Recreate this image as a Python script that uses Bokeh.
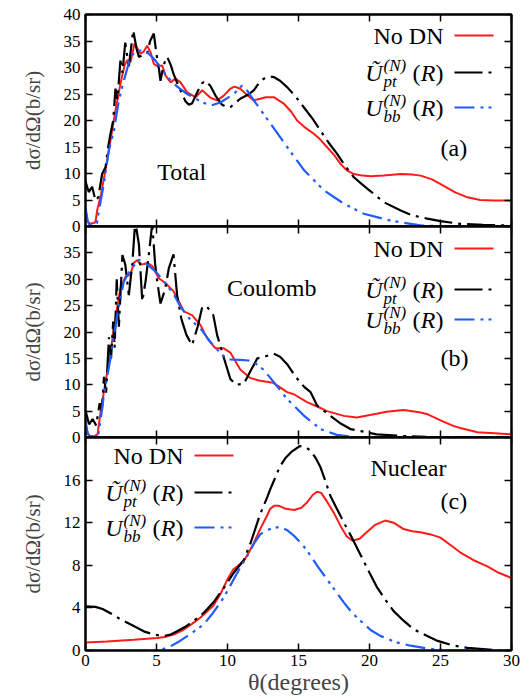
from bokeh.plotting import figure
from bokeh.models import Range1d, LinearAxis, FixedTicker, Label
from bokeh.layouts import column
from bokeh.embed import file_html
from bokeh.resources import INLINE

FONT = "Liberation Serif"
RED = "#ff1a1a"
BLACK = "#000000"
BLUE = "#1f5cff"

theta_ticks = [0, 5, 10, 15, 20, 25, 30]
a_ticks = [0, 5, 10, 15, 20, 25, 30, 35, 40]
b_ticks = [0, 5, 10, 15, 20, 25, 30, 35]
c_ticks = [0, 4, 8, 12, 16]
ab_right_ticks = [0, 5, 10, 15, 20, 25, 30, 35, 40]
c_right_ticks = [0, 4, 8, 12, 16, 20]

legend_labels = ["No DN", "Ũ", "U"]
panel_names = ["Total", "Coulomb", "Nuclear"]
panel_tags = ["(a)", "(b)", "(c)"]
y_title = "dσ/dΩ(b/sr)"
x_title = "θ(degrees)"

# ---------------- Panel (a): Total ----------------
a_red_x = [0, 0.15, 0.3, 0.5, 0.7, 0.82, 1.1, 1.41, 1.76, 2.11, 2.46, 2.75, 2.93, 3.17, 3.45, 3.68, 3.87, 4.1, 4.34, 4.58, 4.81, 5.1, 5.4, 5.63, 5.99, 6.34, 6.69, 7.16, 7.75, 8.22, 8.8, 9.27, 9.74, 10.2, 10.5, 10.9, 11.3, 11.85, 12.3, 12.7, 13.26, 13.96, 14.5, 14.9, 15.5, 16.08, 16.5, 17.0, 17.5, 17.96, 18.4, 18.9, 19.5, 20.1, 21.0, 22.2, 23.0, 23.6, 24.4, 25.2, 26.0, 26.9, 27.8, 28.75, 30]
a_red_y = [3.2, 1.0, 0.5, 0.6, 0.8, 3.0, 6.2, 10.7, 16.2, 21.9, 26.9, 30.4, 31.4, 31.0, 34.5, 33.5, 32.6, 33.0, 34.1, 32.9, 30.7, 30.2, 30.4, 28.5, 27.2, 27.9, 27.2, 25.3, 24.4, 25.7, 24.3, 23.8, 24.7, 26.0, 26.4, 26.0, 25.0, 23.8, 24.1, 24.4, 24.4, 23.2, 21.6, 20.0, 18.6, 17.5, 16.5, 15.0, 13.5, 11.8, 10.6, 9.9, 9.6, 9.5, 9.6, 9.9, 9.8, 9.6, 8.9, 7.7, 6.5, 5.5, 5.0, 4.9, 4.9]

a_blk_x = [0, 0.23, 0.47, 0.7, 0.9, 1.17, 1.41, 1.6, 1.76, 1.95, 2.11, 2.25, 2.46, 2.6, 2.8, 3.05, 3.36, 3.6, 3.76, 4.0, 4.34, 4.55, 4.81, 5.0, 5.16, 5.28, 5.5, 5.75, 6.0, 6.2, 6.5, 6.8, 7.05, 7.28, 7.5, 7.9, 8.2, 8.45, 8.8, 9.2, 9.6, 9.98, 10.2, 10.5, 10.9, 11.4, 11.85, 12.2, 12.56, 13.0, 13.26, 13.7, 14.2, 14.8, 15.37, 16.0, 16.55, 17.1, 17.72, 18.3, 18.9, 19.5, 20.1, 21.0, 22.2, 23.0, 24.06, 25.0, 26.4, 28.0, 30]
a_blk_y = [8.5, 6.5, 7.5, 4.9, 5.5, 9.9, 11.2, 15.0, 17.5, 20.0, 26.0, 24.0, 31.3, 29.0, 34.7, 30.2, 37.0, 33.5, 32.0, 32.3, 32.6, 35.0, 36.4, 32.5, 30.0, 27.5, 30.5, 32.0, 30.5, 28.8, 26.8, 25.0, 23.6, 23.0, 23.2, 25.5, 27.0, 27.5, 26.5, 24.5, 23.0, 22.5, 22.5, 23.2, 24.1, 24.8, 25.7, 27.0, 27.9, 28.3, 28.2, 27.5, 26.3, 24.5, 22.5, 20.3, 18.1, 15.9, 13.7, 11.4, 9.3, 7.9, 6.6, 4.6, 3.0, 2.1, 1.5, 1.0, 0.5, 0.3, 0.2]

a_blu_x = [0, 0.15, 0.3, 0.6, 0.8, 0.94, 1.29, 1.64, 2.0, 2.35, 2.7, 3.17, 3.52, 3.99, 4.46, 4.93, 5.52, 6.1, 6.6, 7.16, 8.1, 8.8, 9.5, 10.44, 11.03, 11.4, 11.85, 13.03, 14.2, 15.4, 16.8, 18.2, 19.6, 21.5, 23.6, 25.0, 30]
a_blu_y = [3.6, 1.0, 0.3, 0.2, 0.6, 3.0, 8.0, 14.3, 18.1, 23.8, 27.5, 32.0, 32.9, 33.3, 32.6, 31.3, 29.1, 27.2, 26.1, 25.0, 23.6, 22.8, 23.4, 25.0, 26.6, 25.6, 23.8, 19.4, 15.0, 10.6, 6.8, 4.3, 2.4, 1.1, 0.2, 0.05, 0.0]

# ---------------- Panel (b): Coulomb ----------------
b_red_x = [0, 0.15, 0.3, 0.6, 0.85, 1.06, 1.41, 1.76, 2.11, 2.46, 2.82, 3.17, 3.4, 3.64, 3.87, 4.1, 4.34, 4.7, 5.16, 5.63, 6.2, 6.6, 6.92, 7.5, 8.1, 8.57, 9.15, 9.74, 10.2, 10.9, 11.6, 12.2, 13.2, 14.2, 14.67, 15.6, 16.55, 17.0, 18.2, 19.1, 20.5, 21.2, 22.4, 23.5, 24.1, 25.2, 25.9, 26.4, 27.6, 28.8, 30]
b_red_y = [2.6, 0.8, 0.3, 0.2, 0.6, 4.8, 10.5, 16.2, 22.6, 28.3, 30.5, 30.9, 33.1, 33.6, 32.8, 32.9, 33.1, 32.5, 30.2, 29.3, 27.7, 25.7, 23.9, 23.2, 21.3, 18.8, 16.9, 16.9, 16.1, 12.9, 11.3, 10.8, 10.4, 8.6, 8.2, 6.7, 5.6, 5.0, 4.1, 3.8, 4.5, 4.9, 5.2, 4.8, 4.4, 3.0, 2.2, 1.8, 1.0, 0.8, 0.6]

b_blk_x = [0, 0.25, 0.5, 0.75, 1.0, 1.15, 1.3, 1.45, 1.65, 1.8, 1.95, 2.05, 2.2, 2.35, 2.6, 2.8, 3.05, 3.3, 3.5, 3.76, 4.0, 4.23, 4.46, 4.7, 4.9, 5.05, 5.28, 5.6, 5.87, 6.2, 6.45, 6.75, 7.1, 7.5, 7.9, 8.2, 8.5, 9.0, 9.27, 9.7, 10.2, 10.6, 11.15, 11.6, 12.1, 12.56, 13.26, 13.7, 14.2, 14.8, 15.4, 15.85, 16.3, 17.25, 18.0, 18.66, 19.4, 20.5, 22.2, 24.0, 30]
b_blk_y = [5.1, 2.5, 3.5, 2.3, 6.5, 5.0, 11.5, 8.5, 19.0, 15.0, 22.0, 17.0, 30.0, 21.0, 34.6, 32.8, 27.0, 33.0, 41.0, 36.6, 25.8, 29.6, 34.7, 40.5, 33.0, 29.6, 25.4, 28.0, 32.1, 34.7, 27.0, 22.5, 19.5, 17.5, 21.0, 24.5, 25.0, 23.2, 19.4, 15.5, 11.1, 10.0, 10.2, 12.5, 15.0, 15.3, 15.9, 15.3, 13.9, 11.5, 9.6, 8.6, 6.1, 4.1, 2.6, 1.6, 1.2, 0.6, 0.3, 0.1, 0.0]

b_blu_x = [0, 0.15, 0.3, 0.6, 0.9, 1.1, 1.29, 1.76, 2.23, 2.7, 3.17, 3.76, 4.34, 4.93, 5.52, 6.2, 6.69, 7.39, 8.1, 8.8, 9.5, 10.0, 10.9, 11.5, 11.85, 12.56, 13.26, 14.2, 15.4, 16.55, 17.7, 18.9, 30]
b_blu_y = [3.2, 0.8, 0.2, 0.2, 0.6, 4.0, 8.0, 15.0, 23.2, 29.6, 31.8, 33.7, 32.8, 31.5, 29.6, 27.2, 24.8, 22.3, 20.7, 18.1, 16.0, 14.8, 14.7, 14.6, 14.3, 12.8, 10.5, 7.3, 4.1, 1.6, 0.5, 0.1, 0.0]

# ---------------- Panel (c): Nuclear ----------------
c_red_x = [0, 1.5, 3.4, 5.05, 5.7, 6.2, 6.9, 7.5, 8.1, 9.0, 9.5, 10.0, 10.4, 10.7, 11.15, 11.5, 11.85, 12.3, 12.8, 13.0, 13.3, 13.6, 14.1, 14.7, 15.2, 15.6, 16.0, 16.3, 16.6, 17.0, 17.5, 17.96, 18.4, 18.8, 19.3, 19.8, 20.4, 21.1, 21.7, 22.4, 23.0, 23.6, 24.3, 25.0, 25.7, 26.4, 27.3, 28.3, 29.1, 30]
c_red_y = [0.75, 0.85, 1.0, 1.17, 1.3, 1.5, 1.95, 2.5, 3.1, 4.2, 5.3, 6.7, 7.6, 7.9, 8.4, 9.2, 10.1, 11.4, 12.7, 13.3, 13.6, 13.6, 13.3, 13.2, 13.4, 13.9, 14.6, 14.9, 14.8, 14.0, 12.9, 11.7, 10.7, 10.3, 10.5, 11.1, 11.8, 12.2, 12.0, 11.4, 11.2, 11.1, 10.9, 10.6, 9.9, 9.2, 8.5, 7.9, 7.3, 6.8]

c_blk_x = [0, 0.7, 1.2, 1.76, 2.5, 3.4, 4.1, 4.8, 5.5, 6.0, 6.45, 7.0, 7.6, 8.3, 9.0, 9.7, 10.44, 11.15, 11.6, 12.1, 12.3, 12.8, 13.0, 13.7, 14.1, 14.55, 15.1, 15.5, 15.85, 16.2, 16.55, 16.9, 17.25, 17.7, 18.2, 18.8, 19.4, 20.0, 20.5, 21.1, 21.7, 22.4, 23.1, 24.0, 24.8, 25.8, 26.9, 28.75, 30]
c_blk_y = [4.15, 4.1, 3.9, 3.5, 2.9, 2.3, 1.8, 1.5, 1.35, 1.5, 1.8, 2.2, 2.75, 3.5, 4.5, 5.8, 7.3, 8.5, 10.0, 12.0, 12.8, 14.4, 15.1, 17.3, 18.1, 18.7, 19.2, 19.1, 18.75, 18.1, 17.2, 15.9, 14.5, 13.3, 12.0, 10.5, 8.9, 7.3, 6.0, 4.8, 3.7, 2.8, 2.0, 1.4, 0.9, 0.5, 0.25, 0.05, 0.0]

c_blu_x = [0, 4.0, 5.0, 5.5, 6.0, 6.6, 7.16, 7.7, 8.33, 8.9, 9.5, 10.0, 10.44, 10.9, 11.4, 11.85, 12.3, 12.8, 13.2, 13.7, 14.2, 14.7, 15.3, 15.85, 16.4, 17.0, 17.6, 18.2, 18.8, 19.4, 20.1, 20.8, 21.8, 22.9, 24.0, 25.2, 30]
c_blu_y = [0.0, 0.0, 0.02, 0.15, 0.4, 0.85, 1.35, 1.85, 2.45, 3.4, 4.5, 5.6, 6.7, 7.8, 8.9, 10.0, 10.9, 11.3, 11.5, 11.6, 11.3, 10.75, 9.9, 8.9, 7.8, 6.7, 5.6, 4.5, 3.5, 2.75, 1.9, 1.35, 0.8, 0.45, 0.2, 0.05, 0.0]

# ---------------- layout constants (pixels) ----------------
FRAME_W = 426
LEFT = 85
RIGHT = 20
PX_X = FRAME_W / 30.0
OVER = 12          # border that overlaps the neighbouring panel

BLK_DASH = "28 6 3 6"
BLU_DASH = "20 6 3 5 3 6"


def style_axis(ax, ticks, labels):
    ax.ticker = FixedTicker(ticks=ticks)
    ax.major_tick_in = 7
    ax.major_tick_out = 0
    ax.minor_tick_in = 0
    ax.minor_tick_out = 0
    ax.major_tick_line_width = 1.5
    ax.major_tick_line_color = "black"
    ax.axis_line_width = 2
    ax.axis_line_color = "black"
    ax.major_label_text_font = FONT
    ax.major_label_text_color = "black"
    if labels:
        ax.major_label_text_font_size = "17px"
        ax.major_label_standoff = 5
    else:
        ax.major_label_text_font_size = "0px"
        ax.major_label_standoff = 0
        ax.major_label_overrides = {t: "" for t in ticks}


def make_panel(frame_h, ymax, yticks, rticks, top, bottom, show_x, transparent):
    h = frame_h + top + bottom
    p = figure(width=LEFT + FRAME_W + RIGHT, height=h,
               x_range=Range1d(0, 30), y_range=Range1d(0, ymax),
               output_backend="svg", toolbar_location=None,
               min_border_left=LEFT, min_border_right=RIGHT,
               min_border_top=top, min_border_bottom=bottom)
    p.grid.visible = False
    p.outline_line_color = "black"
    p.outline_line_width = 2
    p.background_fill_color = "white"
    p.border_fill_color = "white"
    if transparent:
        p.border_fill_alpha = 0.0
    style_axis(p.below[0], theta_ticks, show_x)
    if show_x:
        p.below[0].major_label_standoff = 4
    yax = p.left[0]
    style_axis(yax, yticks, True)
    yax.axis_label = y_title
    yax.axis_label_text_font = FONT
    yax.axis_label_text_font_style = "normal"
    yax.axis_label_text_font_size = "21px"
    yax.axis_label_standoff = 16
    top_ax = LinearAxis()
    style_axis(top_ax, theta_ticks, False)
    p.add_layout(top_ax, "above")
    right_ax = LinearAxis()
    style_axis(right_ax, rticks, False)
    p.add_layout(right_ax, "right")
    return p


def draw_curves(p, rx, ry, kx, ky, bx, by):
    p.line(rx, ry, line_color=RED, line_width=2)
    p.line(kx, ky, line_color=BLACK, line_width=2.2, line_dash=BLK_DASH)
    p.line(bx, by, line_color=BLUE, line_width=2.2, line_dash=BLU_DASH)


def txt(p, x, y, text, size="24px", align="left", style="normal", xoff=0):
    p.add_layout(Label(x=x, y=y, text=text, text_font=FONT, text_font_size=size,
                       text_align=align, text_baseline="middle", text_font_style=style,
                       x_offset=xoff, text_color="black"))


def legend(p, x_right_px, rows_px, top_px, px_y):
    xr = (x_right_px - 85) / PX_X
    ymax = p.y_range.end
    rows = [ymax - (r - top_px) / px_y for r in rows_px]
    x0 = xr + 11 / PX_X
    x1 = xr + 50 / PX_X
    txt(p, xr, rows[0], legend_labels[0], align="right")
    p.line([x0, x1], [rows[0], rows[0]], line_color=RED, line_width=2)
    subs = ["pt", "bb"]
    colors = [BLACK, BLUE]
    dashes = [BLK_DASH, BLU_DASH]
    for i in (1, 2):
        y = rows[i]
        txt(p, xr, y, ")", align="right")
        txt(p, xr, y, "R", align="right", style="italic", xoff=-8)
        txt(p, xr, y, "(", align="right", xoff=-23)
        txt(p, xr, y + 7 / px_y, "(N)", size="17px", style="italic", xoff=-60)
        txt(p, xr, y - 9 / px_y, subs[i - 1], size="17px", style="italic", xoff=-60)
        txt(p, xr, y, legend_labels[i], align="right", style="italic", xoff=-61)
        p.line([x0, x1], [y, y], line_color=colors[i - 1], line_width=2.2, line_dash=dashes[i - 1])


# panel a: frame y 14..226
pa = make_panel(212, 40, a_ticks, ab_right_ticks, 14, OVER, False, False)
draw_curves(pa, a_red_x, a_red_y, a_blk_x, a_blk_y, a_blu_x, a_blu_y)
legend(pa, 443, [35, 72, 107], 14, 212 / 40)
txt(pa, 5.05, 10.25, panel_names[0])
txt(pa, 25.0, 14.9, panel_tags[0])

# panel b: frame y 226..437
pb = make_panel(211, 40, b_ticks, ab_right_ticks, OVER, OVER, False, True)
pb.margin = (-2 * OVER, 0, 0, 0)
draw_curves(pb, b_red_x, b_red_y, b_blk_x, b_blk_y, b_blu_x, b_blu_y)
legend(pb, 443, [248, 289, 319], 226, 211 / 40)
txt(pb, 9.97, 28.4, panel_names[1])
txt(pb, 25.0, 15.0, panel_tags[1])

# panel c: frame y 437..650
pc = make_panel(213, 20, c_ticks, c_right_ticks, OVER, 50, True, True)
pc.margin = (-2 * OVER, 0, 0, 0)
draw_curves(pc, c_red_x, c_red_y, c_blk_x, c_blk_y, c_blu_x, c_blu_y)
legend(pc, 183, [455, 492, 527], 437, 213 / 20)
txt(pc, 20.07, 17.1, panel_names[2])
txt(pc, 25.0, 14.0, panel_tags[2])
xax = pc.below[0]
xax.axis_label = x_title
xax.axis_label_text_font = FONT
xax.axis_label_text_font_style = "normal"
xax.axis_label_text_font_size = "24px"
xax.axis_label_standoff = 0

layout = column(pa, pb, pc, spacing=0)
open("out.html", "w").write(file_html(layout, INLINE))
